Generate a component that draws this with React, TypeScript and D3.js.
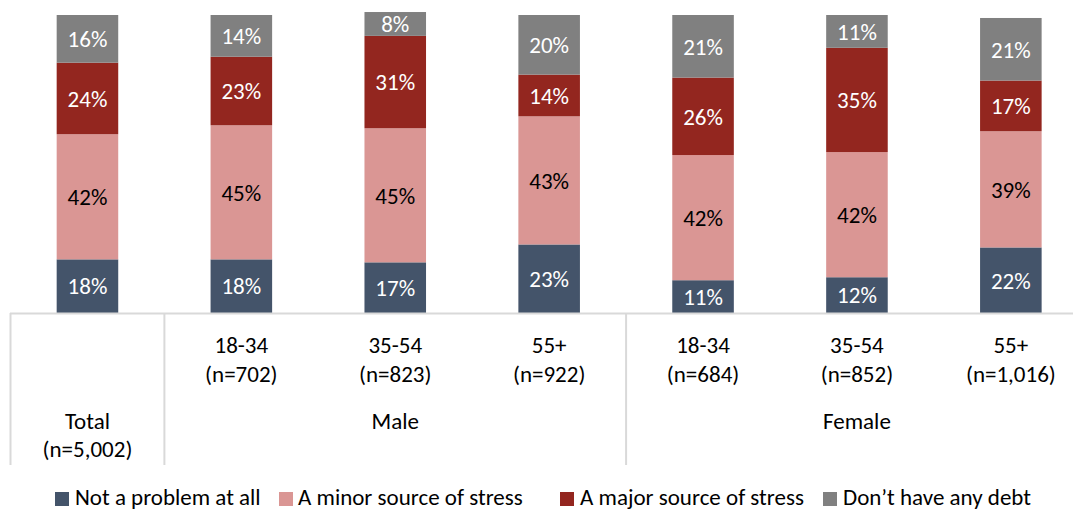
import React from "react";
import * as d3 from "d3";

// Column categories (age group + sample size), grouped by gender
const ageLabels = ["", "18-34", "35-54", "55+", "18-34", "35-54", "55+"];
const sampleLabels = ["", "(n=702)", "(n=823)", "(n=922)", "(n=684)", "(n=852)", "(n=1,016)"];
const columnKeys = ["Total", "M18", "M35", "M55", "F18", "F35", "F55"];

// Series values (percent)
const notAProblem = [18, 18, 17, 23, 11, 12, 22];
const minorStress = [42, 45, 45, 43, 42, 42, 39];
const majorStress = [24, 23, 31, 14, 26, 35, 17];
const noDebt = [16, 14, 8, 20, 21, 11, 21];

const seriesNames = [
  "Not a problem at all",
  "A minor source of stress",
  "A major source of stress",
  "Don\u2019t have any debt",
];
const seriesColors = ["#44546A", "#DA9694", "#93261F", "#808080"];
const labelColors = ["#FFFFFF", "#000000", "#FFFFFF", "#FFFFFF"];

const groups = [
  { name: "Total", sub: "(n=5,002)", from: 0, to: 0 },
  { name: "Male", sub: "", from: 1, to: 3 },
  { name: "Female", sub: "", from: 4, to: 6 },
];

const W = 1073;
const H = 510;
const FONT = "Carlito, Lato, 'Liberation Sans', sans-serif";
const FS = 23;

export default function App() {
  const x = d3.scaleBand<string>().domain(columnKeys).range([10.5, 1087.8]).padding(0);
  const y = d3.scaleLinear().domain([0, 100]).range([313, 15]);
  const barW = x.bandwidth() * 0.4;

  const rows = columnKeys.map((k, i) => ({
    key: k,
    v0: notAProblem[i],
    v1: minorStress[i],
    v2: majorStress[i],
    v3: noDebt[i],
  }));
  const stack = d3.stack<any>().keys(["v0", "v1", "v2", "v3"]);
  const layers = stack(rows);

  const axisY = y(0);
  const sepBottom = 465;
  const sepXs = [x("Total")!, x("M18")!, x("F18")!];

  const legendItems = [
    { sx: 55, tx: 75 },
    { sx: 279, tx: 298 },
    { sx: 560, tx: 580 },
    { sx: 823, tx: 843 },
  ];

  return (
    <svg
      width={W}
      height={H}
      style={{ position: "absolute", left: 0, top: 0, background: "#fff" }}
      fontFamily={FONT}
    >
      {layers.map((layer, li) => (
        <g key={li}>
          {layer.map((d, ci) => {
            const key = columnKeys[ci];
            const x0 = x(key)! + (x.bandwidth() - barW) / 2;
            const yTop = y(d[1]);
            const yBot = y(d[0]);
            const val = d[1] - d[0];
            return (
              <g key={ci}>
                <rect x={x0} y={yTop} width={barW} height={yBot - yTop} fill={seriesColors[li]} />
                <text
                  x={x0 + barW / 2}
                  y={(yTop + yBot) / 2}
                  dy="0.36em"
                  textAnchor="middle"
                  fontSize={FS}
                  fill={labelColors[li]}
                >
                  {`${val}%`}
                </text>
              </g>
            );
          })}
        </g>
      ))}

      {/* category axis */}
      <line x1={10} x2={W} y1={axisY + 0.5} y2={axisY + 0.5} stroke="#D9D9D9" strokeWidth={2} />
      {sepXs.map((sx, i) => (
        <line key={i} x1={sx} x2={sx} y1={axisY} y2={sepBottom} stroke="#D9D9D9" strokeWidth={2} />
      ))}

      {columnKeys.map((k, i) =>
        ageLabels[i] ? (
          <g key={k}>
            <text x={x(k)! + x.bandwidth() / 2} y={345} dy="0.36em" textAnchor="middle" fontSize={FS} fill="#000">
              {ageLabels[i]}
            </text>
            <text x={x(k)! + x.bandwidth() / 2} y={374} dy="0.36em" textAnchor="middle" fontSize={FS} fill="#000">
              {sampleLabels[i]}
            </text>
          </g>
        ) : null
      )}

      {groups.map((g) => {
        const cx = (x(columnKeys[g.from])! + x(columnKeys[g.to])! + x.bandwidth()) / 2;
        return (
          <g key={g.name}>
            <text x={cx} y={421} dy="0.36em" textAnchor="middle" fontSize={FS} fill="#000">
              {g.name}
            </text>
            {g.sub ? (
              <text x={cx} y={449} dy="0.36em" textAnchor="middle" fontSize={FS} fill="#000">
                {g.sub}
              </text>
            ) : null}
          </g>
        );
      })}

      {/* legend */}
      {seriesNames.map((name, i) => (
        <g key={name}>
          <rect x={legendItems[i].sx} y={492} width={14} height={14} fill={seriesColors[i]} />
          <text x={legendItems[i].tx} y={505} fontSize={FS} fill="#000">
            {name}
          </text>
        </g>
      ))}
    </svg>
  );
}
